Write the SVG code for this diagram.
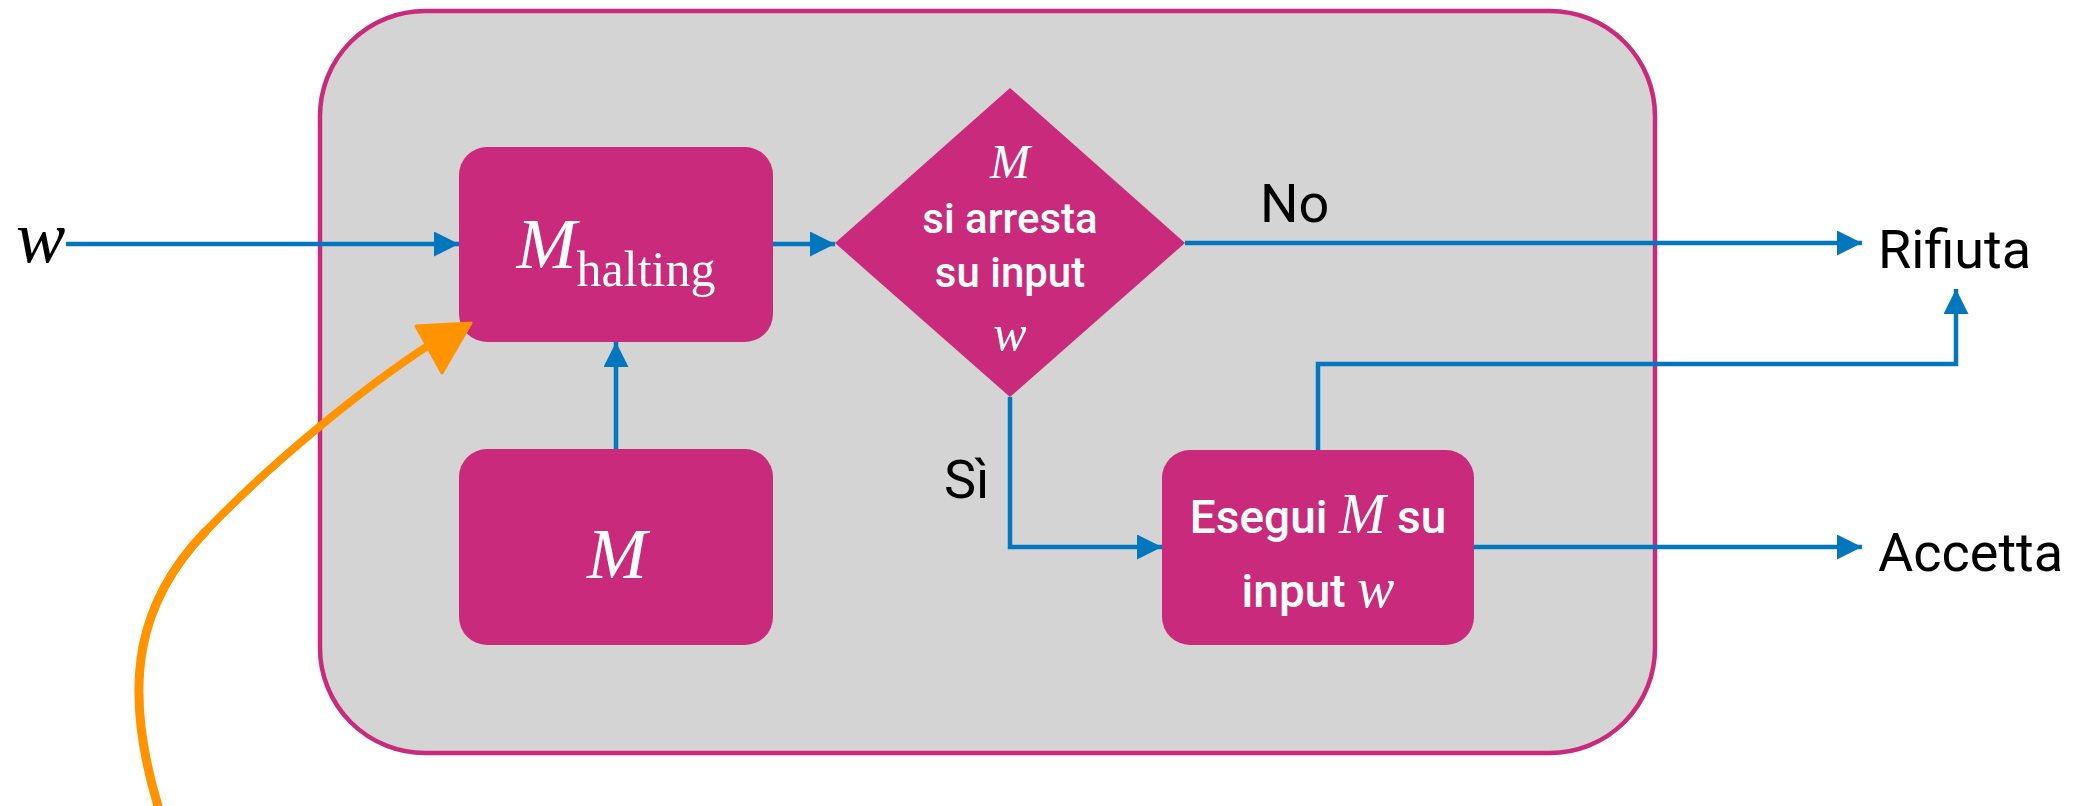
<svg xmlns="http://www.w3.org/2000/svg" width="2077" height="806" viewBox="0 0 2077 806">
  <style>
    .node { fill: #C92A7B; }
    .conn { fill: none; stroke: #0277BD; stroke-width: 4.5; }
    .math { font-family: "Liberation Serif", "DejaVu Serif", serif; font-style: italic; fill: #fff; }
    .mathup { font-family: "Liberation Serif", "DejaVu Serif", serif; fill: #fff; }
    .inner { font-family: Roboto, "Liberation Sans", sans-serif; font-weight: 500; fill: #fff; font-size: 42px; }
    .inner-lg { font-family: Roboto, "Liberation Sans", sans-serif; font-weight: 500; fill: #fff; font-size: 46px; }
    .label { font-family: Roboto, "Liberation Sans", sans-serif; fill: #000; font-size: 54px; }
    .brush { fill: none; stroke: #FF9400; stroke-linecap: round; }
  </style>
  <defs>
    <marker id="arrow" markerUnits="userSpaceOnUse" markerWidth="26" markerHeight="26" refX="25" refY="12.5" orient="auto">
      <path d="M0,0 L25,12.5 L0,25 z" fill="#0277BD"/>
    </marker>
  </defs>

  <rect width="2077" height="806" fill="#fff"/>

  <!-- container -->
  <g id="container">
    <rect x="320" y="11" width="1335" height="742" rx="105" ry="105" fill="#D4D4D4" stroke="#C92A7B" stroke-width="4.5"/>
  </g>

  <!-- M_halting -->
  <g id="m-halting">
    <rect class="node" x="459" y="147" width="314" height="195" rx="28"/>
    <text x="616" y="268" text-anchor="middle"><tspan class="math" font-size="72">M</tspan><tspan class="mathup" font-size="50" dy="18">halting</tspan></text>
  </g>

  <!-- M -->
  <g id="m">
    <rect class="node" x="459" y="449" width="314" height="196" rx="28"/>
    <text class="math" x="617" y="578" font-size="72" text-anchor="middle">M</text>
  </g>

  <!-- decision -->
  <g id="decision">
    <polygon class="node" points="1010,88 1185,243 1010,397 835,243"/>
    <text class="math" x="1010" y="178" font-size="48" text-anchor="middle">M</text>
    <text class="inner" x="1010" y="233" text-anchor="middle">si arresta</text>
    <text class="inner" x="1010" y="287" text-anchor="middle">su input</text>
    <text class="math" x="1010" y="350" font-size="50" text-anchor="middle">w</text>
  </g>

  <!-- run M on w -->
  <g id="run">
    <rect class="node" x="1162" y="450" width="312" height="195" rx="28"/>
    <text x="1318" y="533" text-anchor="middle"><tspan class="inner-lg">Esegui </tspan><tspan class="math" font-size="56">M</tspan><tspan class="inner-lg"> su</tspan></text>
    <text x="1318" y="607" text-anchor="middle"><tspan class="inner-lg">input </tspan><tspan class="math" font-size="56">w</tspan></text>
  </g>

  <!-- outside labels -->
  <g id="input-w">
    <text x="16" y="262" font-family="Liberation Serif, serif" font-style="italic" font-size="74" fill="#000">w</text>
  </g>
  <g id="rifiuta">
    <text class="label" x="1878" y="268">Rifiuta</text>
  </g>
  <g id="accetta">
    <text class="label" x="1878" y="571">Accetta</text>
  </g>

  <!-- connectors -->
  <g id="connectors">
    <path class="conn" d="M66,244 H459" marker-end="url(#arrow)"/>
    <path class="conn" d="M773,244 H835" marker-end="url(#arrow)"/>
    <path class="conn" d="M616,449 V342" marker-end="url(#arrow)"/>
    <path class="conn" d="M1185,243 H1862" marker-end="url(#arrow)"/>
    <path class="conn" d="M1010,397 V547 H1162" marker-end="url(#arrow)"/>
    <path class="conn" d="M1474,547 H1862" marker-end="url(#arrow)"/>
    <path class="conn" d="M1318,450 V364 H1956 V289" marker-end="url(#arrow)"/>
    <text class="label" x="1260" y="222">No</text>
    <text class="label" x="944" y="498">Sì</text>
  </g>

  <!-- orange hand-drawn pointer: heavier at the tail, thinner near the head -->
  <g id="pointer">
    <path class="brush" d="M158,806 C120,680 140,600 205,532" stroke-width="9"/>
    <path class="brush" d="M205,532 C270,464 360,390 432,343" stroke-width="8"/>
    <polygon points="416,326 471,323 442,373" fill="#FF9400" stroke="#FF9400" stroke-width="3" stroke-linejoin="round"/>
  </g>
</svg>
